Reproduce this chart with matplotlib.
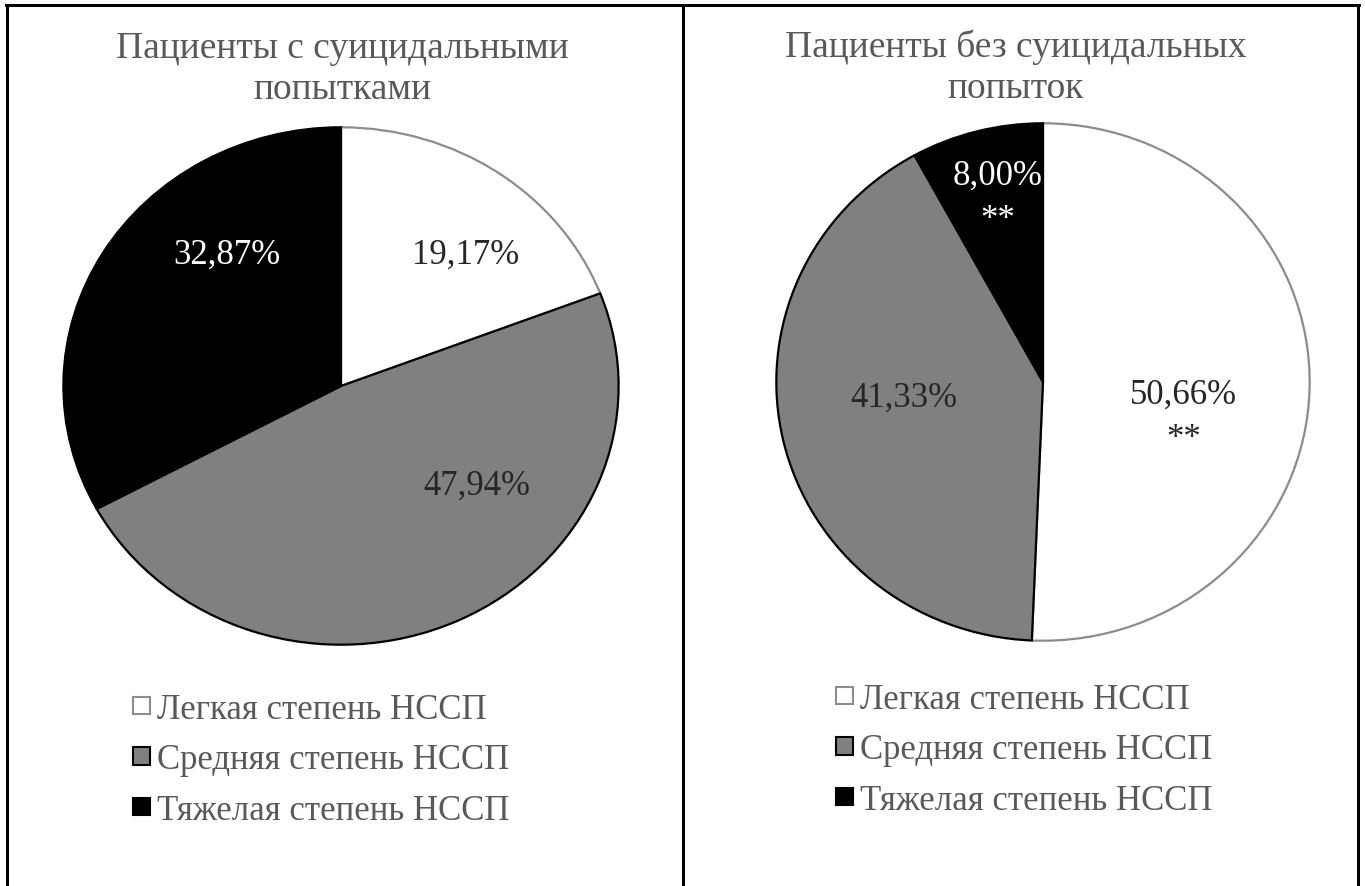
import matplotlib
matplotlib.use("Agg")
import matplotlib.pyplot as plt
from matplotlib.lines import Line2D
from matplotlib.patches import Patch

plt.rcParams["font.family"] = ["Liberation Serif", "DejaVu Serif"]

categories = ["Легкая степень НССП", "Средняя степень НССП", "Тяжелая степень НССП"]
titles = ["Пациенты с суицидальными\nпопытками", "Пациенты без суицидальных\nпопыток"]
with_attempts = [19.17, 47.94, 32.87]
without_attempts = [50.66, 41.33, 8.00]
marks_with = ["", "", ""]
marks_without = ["**", "", "**"]

fills = ["#ffffff", "#808080", "#000000"]
edges = ["#8c8c8c", "#000000", "#000000"]
label_colors = ["#262626", "#262626", "#ffffff"]
text_gray = "#595959"

W, H = 1365, 887
fig = plt.figure(figsize=(W / 100, H / 100), dpi=100)


def px_axes(cx, cy, rx, ry):
    return fig.add_axes([(cx - rx) / W, (H - cy - ry) / H, 2 * rx / W, 2 * ry / H])


def draw_pie(ax, values, marks, label_pos):
    wedges, _ = ax.pie(values, colors=fills, startangle=90, counterclock=False,
                       wedgeprops=dict(linewidth=1.6))
    for w, ec in zip(wedges, edges):
        w.set_edgecolor(ec)
    ax.set_aspect("auto")
    ax.set_xlim(-1.005, 1.005)
    ax.set_ylim(-1.005, 1.005)
    for v, m, (x, y), c in zip(values, marks, label_pos, label_colors):
        txt = f"{v:.2f}".replace(".", ",") + "%"
        if m:
            txt += "\n" + m
        ax.text(x, y, txt, ha="center", va="center", fontsize=25, color=c,
                linespacing=1.45)


ax1 = px_axes(341, 387, 279, 260)
draw_pie(ax1, with_attempts, marks_with, [(0.45, 0.51), (0.49, -0.385), (-0.41, 0.51)])

ax2 = px_axes(1043, 383, 268, 260)
draw_pie(ax2, without_attempts, marks_without, [(0.526, -0.133), (-0.52, -0.06), (-0.17, 0.715)])

fig.text(342 / W, 1 - 69.5 / H, titles[0], ha="center", va="center", fontsize=27,
         color=text_gray, linespacing=1.26)
fig.text(1016 / W, 1 - 67.5 / H, titles[1], ha="center", va="center", fontsize=27,
         color=text_gray, linespacing=1.26)

handles = [Patch(facecolor=f, edgecolor=e, linewidth=1.5) for f, e in zip(fills, edges)]
for x0, y0 in [(133, 694), (836, 684)]:
    fig.legend(handles, categories, loc="upper left",
               bbox_to_anchor=(x0 / W, 1 - y0 / H), frameon=False, fontsize=25,
               labelcolor=text_gray, handlelength=0.5, handleheight=0.4,
               handletextpad=0.2, labelspacing=0.5, borderpad=0, borderaxespad=0)

# panel borders
lw = 3 * 72 / 100
for x in [7, 683, 1358]:
    fig.add_artist(Line2D([x / W, x / W], [0, 1 - 6 / H], color="black", linewidth=lw))
fig.add_artist(Line2D([6 / W, 1359 / W], [1 - 6 / H, 1 - 6 / H], color="black", linewidth=lw))

fig.savefig("out.png", dpi=100)
